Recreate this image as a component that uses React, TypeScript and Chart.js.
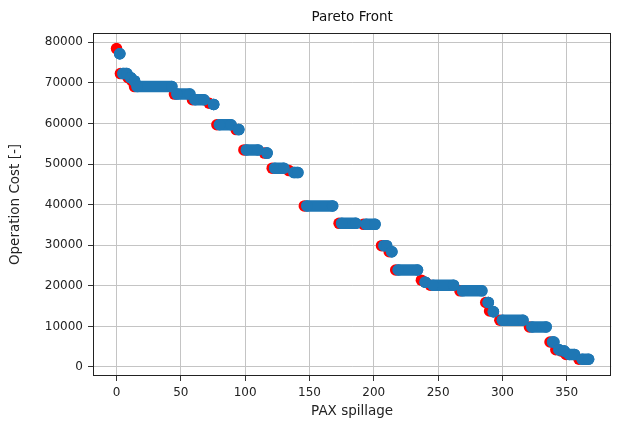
import React, { useEffect, useRef } from "react";
import { Chart, registerables } from "chart.js";

Chart.register(...registerables);

const TITLE = "Pareto Front";
const X_LABEL = "PAX spillage";
const Y_LABEL = "Operation Cost [-]";

// Blue runs of solutions: start PAX spillage, end PAX spillage, operation cost
const segStart = [2.5, 5, 11, 14, 16, 47, 61, 75.5, 80, 95, 101, 117, 123, 138, 148, 175, 194, 208, 214, 219, 240, 246, 269, 289, 293, 300, 323, 339, 344, 348, 352, 362];
const segEnd   = [2.5, 8, 11, 14, 43, 57, 68, 75.5, 89, 95, 110, 117, 130, 141, 168, 186, 201, 210, 214, 234, 240, 262, 284, 289, 293, 316, 334, 340, 344, 348, 356, 367];
const segCost  = [77200, 72300, 71300, 70500, 69100, 67250, 65850, 64700, 59700, 58500, 53500, 52700, 49000, 47900, 39700, 35400, 35150, 29900, 28400, 23900, 20900, 20170, 18770, 15900, 13600, 11530, 9880, 6170, 4250, 3950, 3100, 1900];

// Red points
const redX = [0, 3, 9, 12, 14, 45, 59, 72, 78, 93, 99, 115, 121, 134, 146, 173, 192, 206, 212, 217, 237, 244, 267, 287, 290, 298, 321, 337, 341.5, 345.5, 349.5, 359.5];
const redY = [78450, 72300, 71300, 70500, 69100, 67250, 65850, 65000, 59700, 58500, 53500, 52700, 49000, 48400, 39700, 35400, 35150, 29900, 28400, 23900, 21400, 20170, 18770, 15900, 13800, 11530, 9880, 6170, 4250, 3950, 3100, 1900];

const X_TICKS = [0, 50, 100, 150, 200, 250, 300, 350];
const Y_TICKS = [0, 10000, 20000, 30000, 40000, 50000, 60000, 70000, 80000];

const FONT = '"DejaVu Sans", sans-serif';

const framePlugin = {
  id: "frameAndTitle",
  afterDraw(chart: any) {
    const { ctx, chartArea: a } = chart;
    ctx.save();
    ctx.strokeStyle = "#222";
    ctx.lineWidth = 1;
    ctx.strokeRect(
      Math.round(a.left) + 0.5,
      Math.round(a.top) + 0.5,
      Math.round(a.right - a.left) - 1,
      Math.round(a.bottom - a.top) - 1
    );
    ctx.fillStyle = "#111";
    ctx.font = `13.5px ${FONT}`;
    ctx.textAlign = "center";
    ctx.textBaseline = "middle";
    ctx.fillText(TITLE, (a.left + a.right) / 2, 17);
    ctx.restore();
  },
};

export default function App() {
  const ref = useRef<HTMLCanvasElement | null>(null);

  useEffect(() => {
    document.body.style.margin = "0";
    const canvas = ref.current;
    if (!canvas) return;

    const blueData: any[] = [];
    for (let i = 0; i < segStart.length; i++) {
      blueData.push({ x: segStart[i], y: segCost[i] });
      blueData.push({ x: segEnd[i], y: segCost[i] });
      blueData.push({ x: segEnd[i], y: null });
    }
    const redData = redX.map((x, i) => ({ x, y: redY[i] }));

    const chart = new Chart(canvas, {
      type: "scatter",
      data: {
        datasets: [
          {
            label: "front",
            data: blueData,
            showLine: true,
            spanGaps: false,
            borderColor: "#1f77b4",
            backgroundColor: "#1f77b4",
            borderWidth: 11.5,
            borderCapStyle: "round",
            borderJoinStyle: "round",
            pointRadius: 5.75,
            pointBorderWidth: 0,
            pointBackgroundColor: "#1f77b4",
            tension: 0,
            order: 1,
          } as any,
          {
            label: "solutions",
            data: redData,
            pointRadius: 5.75,
            pointBorderWidth: 0,
            pointBackgroundColor: "#ff0000",
            backgroundColor: "#ff0000",
            borderColor: "#ff0000",
            order: 2,
          } as any,
        ],
      },
      options: {
        animation: false,
        responsive: false,
        devicePixelRatio: 1,
        layout: { padding: { top: 33, right: 3, bottom: 0, left: 0 } },
        plugins: {
          legend: { display: false },
          tooltip: { enabled: false },
          title: { display: false },
        },
        scales: {
          x: {
            type: "linear",
            min: -18.3,
            max: 384.6,
            z: 1,
            border: { display: false },
            grid: {
              color: "#c4c4c4",
              lineWidth: 1,
              drawTicks: true,
              tickLength: 5,
              tickColor: "#333",
            },
            afterBuildTicks(s: any) {
              s.ticks = X_TICKS.map((v) => ({ value: v }));
            },
            ticks: {
              color: "#222",
              padding: 5,
              maxRotation: 0,
              autoSkip: false,
              font: { family: FONT, size: 12 },
              callback: (v: any) => String(v),
            },
            title: {
              display: true,
              text: X_LABEL,
              color: "#222",
              font: { family: FONT, size: 13.5 },
              padding: { top: 0, bottom: 12.9 },
            },
            afterFit(s: any) {
              s.height = 56;
            },
          } as any,
          y: {
            type: "linear",
            min: -2220,
            max: 82300,
            z: 1,
            border: { display: false },
            grid: {
              color: "#c4c4c4",
              lineWidth: 1,
              drawTicks: true,
              tickLength: 5,
              tickColor: "#333",
            },
            afterBuildTicks(s: any) {
              s.ticks = Y_TICKS.map((v) => ({ value: v }));
            },
            ticks: {
              color: "#222",
              padding: 5,
              autoSkip: false,
              font: { family: FONT, size: 12 },
              callback: (v: any) => String(v),
            },
            title: {
              display: true,
              text: Y_LABEL,
              color: "#222",
              font: { family: FONT, size: 13.5 },
              padding: { top: 6.9, bottom: 0 },
            },
            afterFit(s: any) {
              s.width = 93;
            },
          } as any,
        },
      },
      plugins: [framePlugin],
    });

    return () => chart.destroy();
  }, []);

  return (
    <div style={{ position: "absolute", left: 0, top: 0, width: 617, height: 432, background: "#fff" }}>
      <canvas ref={ref} width={617} height={432} style={{ width: 617, height: 432, display: "block" }} />
    </div>
  );
}
